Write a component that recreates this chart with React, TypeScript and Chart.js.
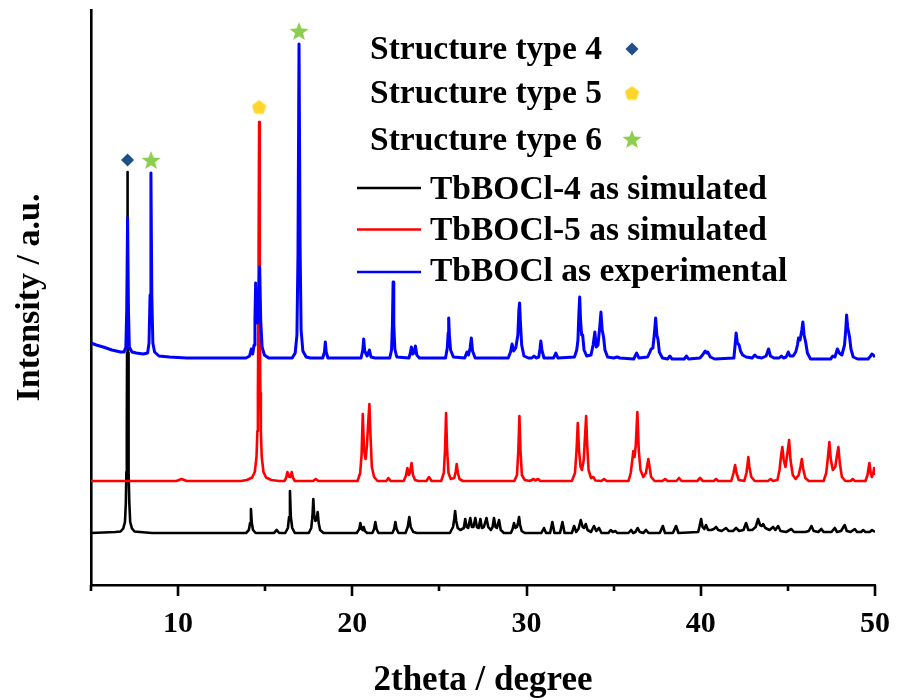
import React, { useEffect, useRef } from "react";
import { Chart, registerables } from "chart.js";

Chart.register(...registerables);

// ---------- data (2theta in degrees, intensity in arbitrary units) ----------
const xTickValues = [10, 20, 30, 40, 50];
const xMinorTickValues = [5, 15, 25, 35, 45];

const legendSeriesLabels = ["TbBOCl-4 as simulated", "TbBOCl-5 as simulated", "TbBOCl as experimental"];
const legendMarkerLabels = ["Structure type 4", "Structure type 5", "Structure type 6"];

// TbBOCl-4 as simulated (black)
const tbbocl4Sim: [number, number][] = [
  [5.0, 52], [6.4, 53], [6.7, 53.5], [6.85, 56.5], [6.95, 63], [7.0, 82], [7.03, 113], [7.055, 157], [7.07, 232], [7.085, 302], [7.1, 413], [7.115, 302], [7.13, 232], [7.145, 157], [7.17, 113], [7.2, 82], [7.25, 63], [7.35, 56.5], [7.5, 53.5], [7.8, 53],
  [8.5, 52], [13.9, 52], [14.06, 55], [14.13, 62], [14.18, 76], [14.23, 62], [14.3, 55], [14.45, 52],
  [15.5, 52], [15.66, 55], [15.8, 52],
  [16.15, 52], [16.3, 57], [16.37, 68], [16.42, 94], [16.47, 68], [16.55, 57], [16.7, 52],
  [17.5, 52], [17.64, 57], [17.71, 68], [17.76, 86], [17.81, 70], [17.88, 64], [17.96, 66], [18.01, 73], [18.07, 62], [18.15, 55], [18.35, 52],
  [20.25, 52], [20.4, 56], [20.46, 62], [20.53, 56], [20.6, 55], [20.65, 58], [20.72, 54], [20.85, 52],
  [21.15, 52], [21.25, 56], [21.32, 63], [21.39, 56], [21.5, 52],
  [22.3, 52], [22.4, 56], [22.47, 63], [22.54, 56], [22.65, 52],
  [23.05, 52], [23.18, 58], [23.27, 68], [23.35, 58], [23.5, 53], [23.7, 52],
  [25.6, 52], [25.78, 58], [25.85, 66], [25.9, 74], [25.96, 64], [26.05, 57], [26.2, 55],
  [26.4, 57], [26.48, 66], [26.56, 58], [26.65, 57], [26.77, 67], [26.86, 58], [26.95, 58], [27.06, 67], [27.15, 58], [27.25, 57], [27.35, 66], [27.44, 57], [27.55, 58],
  [27.7, 67], [27.8, 58], [27.95, 55], [28.05, 58], [28.13, 67], [28.22, 58], [28.3, 57], [28.42, 65], [28.52, 55], [28.7, 52],
  [29.1, 52], [29.2, 56], [29.28, 62], [29.36, 57], [29.45, 58], [29.51, 62], [29.57, 68], [29.63, 60], [29.72, 54], [29.9, 52],
  [30.85, 52], [31.0, 57], [31.12, 52], [31.35, 52], [31.48, 63], [31.6, 52], [31.92, 52], [32.06, 63], [32.18, 52],
  [32.6, 52], [32.73, 59], [32.85, 53], [32.98, 56], [33.11, 65], [33.22, 58], [33.3, 57], [33.4, 61], [33.5, 55], [33.7, 53], [33.87, 59], [34.0, 54], [34.16, 57], [34.3, 52],
  [34.7, 52], [34.83, 55], [34.95, 53], [35.1, 54], [35.2, 52],
  [35.85, 52], [36.0, 55], [36.12, 52], [36.25, 53], [36.38, 57], [36.5, 53], [36.7, 52], [36.86, 55], [37.0, 52],
  [37.65, 52], [37.82, 59], [37.95, 52], [38.4, 52], [38.58, 59], [38.72, 52],
  [39.85, 53], [39.92, 58], [40.02, 66], [40.1, 58], [40.2, 56], [40.3, 60], [40.42, 55], [40.6, 55], [40.75, 56], [40.88, 58], [41.0, 55], [41.2, 54], [41.45, 57], [41.6, 54],
  [41.85, 54], [42.03, 57], [42.2, 54], [42.45, 55], [42.6, 62], [42.73, 55], [42.95, 55], [43.15, 58], [43.29, 66], [43.4, 60], [43.5, 59], [43.58, 61], [43.7, 57],
  [43.95, 55], [44.15, 58], [44.28, 55], [44.44, 59], [44.58, 54], [44.9, 53], [45.2, 56], [45.35, 53], [45.7, 53], [46.0, 53], [46.2, 54], [46.35, 59], [46.48, 54],
  [46.75, 53], [46.92, 56], [47.05, 53], [47.5, 53], [47.69, 57], [47.82, 53], [48.05, 54], [48.26, 60], [48.38, 54], [48.6, 53], [48.84, 56], [48.97, 53],
  [49.2, 53], [49.32, 55], [49.45, 53], [49.7, 53], [49.83, 55], [50.0, 53],
];

// TbBOCl-5 as simulated (red)
const tbbocl5Sim: [number, number][] = [
  [5.0, 104], [9.9, 104], [10.2, 106], [10.5, 104],
  [13.6, 104], [13.95, 105], [14.25, 107.5], [14.4, 113], [14.5, 128], [14.55, 154], [14.58, 192], [14.605, 262], [14.62, 334], [14.65, 463], [14.68, 334], [14.695, 262], [14.72, 192], [14.75, 154], [14.8, 128], [14.9, 113], [15.05, 107.5], [15.35, 105], [15.8, 104],
  [16.1, 104], [16.2, 107], [16.27, 113], [16.38, 108], [16.45, 108], [16.52, 113], [16.6, 107], [16.7, 104],
  [17.75, 104], [17.9, 106], [18.05, 104],
  [20.3, 104], [20.45, 112], [20.53, 130], [20.6, 171], [20.67, 135], [20.76, 126], [20.84, 140], [20.92, 165], [20.98, 181], [21.04, 150], [21.12, 118], [21.25, 108], [21.45, 104],
  [21.95, 104], [22.07, 107], [22.2, 104],
  [22.95, 104], [23.07, 109], [23.16, 117], [23.24, 110], [23.3, 112], [23.4, 122], [23.48, 110], [23.6, 105], [23.8, 104],
  [24.25, 104], [24.4, 108], [24.55, 104],
  [25.1, 104], [25.25, 112], [25.32, 135], [25.38, 172], [25.44, 135], [25.52, 112], [25.65, 106], [25.85, 107], [25.93, 113], [25.99, 121], [26.06, 112], [26.15, 106], [26.35, 104],
  [29.3, 104], [29.45, 110], [29.53, 135], [29.59, 169], [29.65, 135], [29.73, 110], [29.9, 105], [30.2, 104], [30.4, 106], [30.5, 104.5], [30.66, 106], [30.8, 104],
  [32.6, 104], [32.78, 112], [32.87, 135], [32.94, 162], [33.01, 135], [33.1, 118], [33.18, 115], [33.28, 125], [33.36, 150], [33.42, 169], [33.48, 140], [33.56, 115], [33.7, 107], [33.84, 108], [33.95, 104.5],
  [34.3, 104], [34.45, 106], [34.6, 104],
  [35.85, 104], [35.98, 112], [36.07, 125], [36.13, 134], [36.2, 128], [36.27, 140], [36.36, 173], [36.44, 135], [36.54, 115], [36.7, 108], [36.85, 112], [36.93, 120], [36.99, 126], [37.06, 118], [37.15, 108], [37.35, 104],
  [37.8, 104], [37.95, 106], [38.1, 104], [38.6, 104], [38.75, 107], [38.9, 104], [39.8, 104], [39.96, 107], [40.12, 104], [40.75, 104], [40.88, 106], [41.0, 104],
  [41.75, 104], [41.88, 112], [41.97, 120], [42.05, 112], [42.18, 105],
  [42.5, 104], [42.62, 112], [42.68, 120], [42.73, 128], [42.79, 118], [42.9, 108], [43.1, 104],
  [43.85, 104], [44.01, 106], [44.15, 104],
  [44.4, 105], [44.52, 115], [44.6, 128], [44.68, 138], [44.76, 125], [44.86, 118], [44.96, 130], [45.07, 145], [45.15, 125], [45.28, 110], [45.45, 106], [45.62, 110], [45.72, 118], [45.8, 126], [45.88, 116], [46.0, 107], [46.2, 104],
  [47.05, 104], [47.2, 112], [47.3, 128], [47.38, 143], [47.46, 126], [47.58, 115], [47.72, 118], [47.82, 130], [47.9, 138], [47.98, 122], [48.1, 108], [48.3, 104],
  [48.6, 104], [48.72, 106], [48.85, 104],
  [49.45, 104], [49.57, 110], [49.63, 117], [49.68, 122], [49.75, 112], [49.82, 108], [49.9, 112], [49.95, 117], [50.0, 110],
];

// TbBOCl as experimental (blue)
const tbboclExp: [number, number][] = [
  [5.0, 242], [5.3, 240], [5.7, 238], [6.2, 235], [6.7, 233], [6.9, 233], [7.0, 238], [7.05, 275], [7.1, 367], [7.15, 275], [7.2, 238], [7.35, 233], [7.6, 232], [8.0, 231],
  [8.25, 232], [8.33, 242], [8.39, 290], [8.44, 412], [8.49, 290], [8.55, 242], [8.65, 233], [8.9, 229], [9.5, 228], [10.5, 227], [13.0, 227], [13.9, 227],
  [14.1, 229], [14.2, 236], [14.28, 231], [14.36, 240], [14.41, 265], [14.45, 302], [14.5, 270], [14.56, 262], [14.62, 285], [14.68, 318], [14.74, 265], [14.82, 238], [14.95, 230], [15.2, 227],
  [16.55, 227], [16.72, 232], [16.82, 250], [16.88, 330], [16.94, 541], [17.0, 340], [17.06, 255], [17.16, 234], [17.35, 228], [17.6, 227],
  [18.3, 227], [18.4, 233], [18.45, 243], [18.5, 233], [18.6, 227],
  [20.5, 227], [20.6, 235], [20.65, 246], [20.71, 234], [20.85, 229], [20.98, 235], [21.07, 228], [21.3, 227],
  [22.15, 227], [22.25, 235], [22.3, 260], [22.34, 303], [22.38, 260], [22.44, 236], [22.55, 228], [23.25, 227], [23.33, 232], [23.39, 238], [23.46, 231], [23.53, 232], [23.62, 239], [23.7, 230], [23.85, 227],
  [25.35, 227], [25.45, 237], [25.5, 252], [25.53, 267], [25.57, 250], [25.64, 235], [25.8, 228], [26.45, 227], [26.58, 233], [26.67, 230], [26.76, 237], [26.83, 247], [26.9, 234], [27.05, 227],
  [28.95, 227], [29.08, 233], [29.17, 241], [29.26, 234], [29.38, 237], [29.5, 250], [29.56, 275], [29.6, 282], [29.65, 262], [29.72, 240], [29.85, 229], [30.1, 227],
  [30.3, 227], [30.43, 229], [30.55, 227], [30.7, 228], [30.77, 236], [30.82, 244], [30.88, 235], [31.0, 227], [31.55, 227], [31.68, 232], [31.8, 227],
  [32.75, 228], [32.88, 235], [32.95, 245], [33.0, 270], [33.05, 288], [33.1, 265], [33.16, 250], [33.22, 250], [33.3, 235], [33.45, 229], [33.7, 230], [33.82, 240], [33.92, 253], [34.0, 238],
  [34.1, 240], [34.2, 258], [34.27, 273], [34.34, 255], [34.42, 248], [34.5, 235], [34.65, 228], [35.0, 227], [35.2, 228], [35.35, 227],
  [36.15, 226], [36.32, 232], [36.45, 227], [36.95, 228], [37.08, 233], [37.15, 236], [37.25, 237], [37.33, 250], [37.41, 267], [37.48, 250], [37.55, 245], [37.62, 233], [37.8, 227],
  [38.1, 226], [38.22, 229], [38.35, 226], [39.05, 226], [39.18, 229], [39.3, 226], [39.95, 227], [40.1, 230], [40.25, 234], [40.33, 232], [40.4, 233], [40.55, 228], [40.8, 226],
  [41.9, 227], [41.96, 238], [42.03, 252], [42.1, 242], [42.2, 240], [42.28, 234], [42.4, 230], [42.6, 228], [42.95, 227], [43.1, 230], [43.22, 228], [43.5, 227],
  [43.75, 229], [43.89, 236], [44.0, 229], [44.2, 227], [44.5, 227], [44.63, 229], [44.75, 227], [44.9, 228], [45.02, 233], [45.12, 229], [45.3, 229],
  [45.45, 233], [45.55, 240], [45.61, 247], [45.7, 245], [45.8, 255], [45.86, 263], [45.93, 250], [46.03, 242], [46.12, 232], [46.3, 226],
  [47.45, 226], [47.58, 229], [47.7, 228], [47.84, 236], [47.95, 232], [48.1, 230], [48.25, 240], [48.32, 255], [48.37, 270], [48.43, 258], [48.54, 248], [48.62, 236], [48.75, 228],
  [49.0, 226], [49.6, 226], [49.75, 229], [49.82, 231], [49.9, 230], [50.0, 228],
];

// phase markers above peaks
const type4Markers: [number, number][] = [[7.1, 425]];
const type5Markers: [number, number][] = [[14.65, 478]];
const type6Markers: [number, number][] = [[8.45, 425], [16.94, 554]];

// ---------- styles ----------
const FONT = "'Liberation Serif', 'Times New Roman', serif";
const COLOR_T4 = "#1f4e8a";
const COLOR_T5 = "#fdd52b";
const COLOR_T6 = "#8ccf4e";

function makePentagon(size: number, color: string) {
  const c = document.createElement("canvas");
  c.width = size; c.height = size;
  const ctx = c.getContext("2d")!;
  const r = size / 2 - 0.5;
  ctx.beginPath();
  for (let i = 0; i < 5; i++) {
    const a = -Math.PI / 2 + (i * 2 * Math.PI) / 5;
    const px = size / 2 + r * Math.cos(a);
    const py = size / 2 + 0.6 + r * Math.sin(a);
    if (i === 0) ctx.moveTo(px, py); else ctx.lineTo(px, py);
  }
  ctx.closePath();
  ctx.fillStyle = color;
  ctx.lineJoin = "round";
  ctx.strokeStyle = color;
  ctx.lineWidth = 1;
  ctx.fill();
  ctx.stroke();
  return c;
}

function makeStar(size: number, color: string) {
  const c = document.createElement("canvas");
  c.width = size; c.height = size;
  const ctx = c.getContext("2d")!;
  const R = size / 2;
  const rIn = R * 0.42;
  ctx.beginPath();
  for (let i = 0; i < 10; i++) {
    const a = -Math.PI / 2 + (i * Math.PI) / 5;
    const rr = i % 2 === 0 ? R : rIn;
    const px = size / 2 + rr * Math.cos(a);
    const py = size / 2 + 1 + rr * Math.sin(a);
    if (i === 0) ctx.moveTo(px, py); else ctx.lineTo(px, py);
  }
  ctx.closePath();
  ctx.fillStyle = color;
  ctx.fill();
  return c;
}

function drawDiamond(ctx: CanvasRenderingContext2D, x: number, y: number, r: number, color: string) {
  ctx.beginPath();
  ctx.moveTo(x, y - r);
  ctx.lineTo(x + r, y);
  ctx.lineTo(x, y + r);
  ctx.lineTo(x - r, y);
  ctx.closePath();
  ctx.fillStyle = color;
  ctx.fill();
}

const toXY = (arr: [number, number][]) => arr.map(([x, y]) => ({ x, y }));

export default function App() {
  const canvasRef = useRef<HTMLCanvasElement | null>(null);

  useEffect(() => {
    const canvas = canvasRef.current;
    if (!canvas) return;
    const pentagonImg = makePentagon(15, COLOR_T5);
    const starImg = makeStar(20, COLOR_T6);

    const axisTicksPlugin = {
      id: "axisTicks",
      afterDraw(chart: any) {
        const ctx = chart.ctx as CanvasRenderingContext2D;
        const xs = chart.scales.x;
        const y0 = chart.chartArea.bottom;
        ctx.save();
        ctx.strokeStyle = "#000";
        ctx.lineWidth = 2.6;
        const all = [...xTickValues.map((v) => [v, 11]), ...xMinorTickValues.map((v) => [v, 6])];
        for (const [v, len] of all) {
          const px = Math.round(xs.getPixelForValue(v));
          ctx.beginPath();
          ctx.moveTo(px, y0);
          ctx.lineTo(px, y0 + len);
          ctx.stroke();
        }
        ctx.restore();
      },
    };

    const legendPlugin = {
      id: "customLegend",
      afterDraw(chart: any) {
        const ctx = chart.ctx as CanvasRenderingContext2D;
        ctx.save();
        ctx.font = `bold 33.5px ${FONT}`;
        ctx.fillStyle = "#000";
        ctx.textBaseline = "alphabetic";
        ctx.textAlign = "left";
        // phase marker legend
        const markerRows = [59, 103, 150];
        legendMarkerLabels.forEach((t, i) => ctx.fillText(t, 370, markerRows[i]));
        drawDiamond(ctx, 632, 49, 6.5, COLOR_T4);
        ctx.drawImage(pentagonImg, 632 - 7.5, 93 - 7.5);
        ctx.drawImage(starImg, 632 - 10, 139 - 10);
        // line legend
        const lineColors = ["#000000", "#ff0000", "#0000ff"];
        const lineY = [188, 229.5, 272];
        const textY = [199, 240, 281];
        legendSeriesLabels.forEach((t, i) => {
          ctx.strokeStyle = lineColors[i];
          ctx.lineWidth = 2.6;
          ctx.beginPath();
          ctx.moveTo(357, lineY[i]);
          ctx.lineTo(421, lineY[i]);
          ctx.stroke();
          ctx.fillStyle = "#000";
          ctx.fillText(t, 430, textY[i]);
        });
        ctx.restore();
      },
    };

    const lineDs = (label: string, data: [number, number][], color: string, width: number) => ({
      type: "line" as const,
      label,
      data: toXY(data),
      borderColor: color,
      backgroundColor: color,
      borderWidth: width,
      pointRadius: 0,
      tension: 0,
      fill: false,
      borderJoinStyle: "round" as const,
    });

    const chart = new Chart(canvas, {
      type: "line",
      data: {
        datasets: [
          {
            type: "line", label: legendMarkerLabels[0], data: toXY(type4Markers), showLine: false,
            pointStyle: "rectRot", pointRadius: 6.5, backgroundColor: COLOR_T4, borderColor: COLOR_T4, borderWidth: 0,
          },
          {
            type: "line", label: legendMarkerLabels[1], data: toXY(type5Markers), showLine: false,
            pointStyle: pentagonImg, pointRadius: 8,
          },
          {
            type: "line", label: legendMarkerLabels[2], data: toXY(type6Markers), showLine: false,
            pointStyle: starImg, pointRadius: 8,
          },
          lineDs(legendSeriesLabels[2], tbboclExp, "#0000ff", 3),
          lineDs(legendSeriesLabels[1], tbbocl5Sim, "#ff0000", 2.6),
          lineDs(legendSeriesLabels[0], tbbocl4Sim, "#000000", 2.6),
        ] as any,
      },
      options: {
        responsive: false,
        animation: false,
        devicePixelRatio: 1,
        layout: { padding: { top: 10, right: 22, left: 0, bottom: 0 } },
        plugins: { legend: { display: false }, tooltip: { enabled: false } },
        scales: {
          x: {
            type: "linear",
            min: 5,
            max: 50,
            afterBuildTicks: (s: any) => { s.ticks = xTickValues.map((v) => ({ value: v })); },
            afterFit: (s: any) => { s.height = 115; s.paddingLeft = 0; s.paddingRight = 0; },
            grid: { display: false, drawTicks: false },
            border: { display: true, color: "#000", width: 2.6 },
            ticks: {
              color: "#000", padding: 21, maxRotation: 0, autoSkip: false,
              font: { family: FONT, size: 30, weight: "bold" },
              callback: (v: any) => String(v),
            },
            title: {
              display: true, text: "2theta / degree", color: "#000",
              font: { family: FONT, size: 35, weight: "bold", lineHeight: 1 },
              padding: { top: 0, bottom: 2 },
            },
          },
          y: {
            type: "linear",
            min: 0,
            max: 575,
            afterFit: (s: any) => { s.width = 91; s.paddingTop = 0; s.paddingBottom = 0; },
            grid: { display: false, drawTicks: false },
            border: { display: true, color: "#000", width: 2.6 },
            ticks: { display: false },
            title: {
              display: true, text: "Intensity / a.u.", color: "#000",
              font: { family: FONT, size: 34, weight: "bold", lineHeight: 1 },
              padding: { top: 13, bottom: 0 },
            },
          },
        },
      } as any,
      plugins: [axisTicksPlugin, legendPlugin],
    });

    return () => chart.destroy();
  }, []);

  return (
    <div style={{ position: "absolute", left: 0, top: 0, width: 897, height: 700, background: "#fff" }}>
      <canvas ref={canvasRef} width={897} height={700} style={{ display: "block" }} />
    </div>
  );
}
